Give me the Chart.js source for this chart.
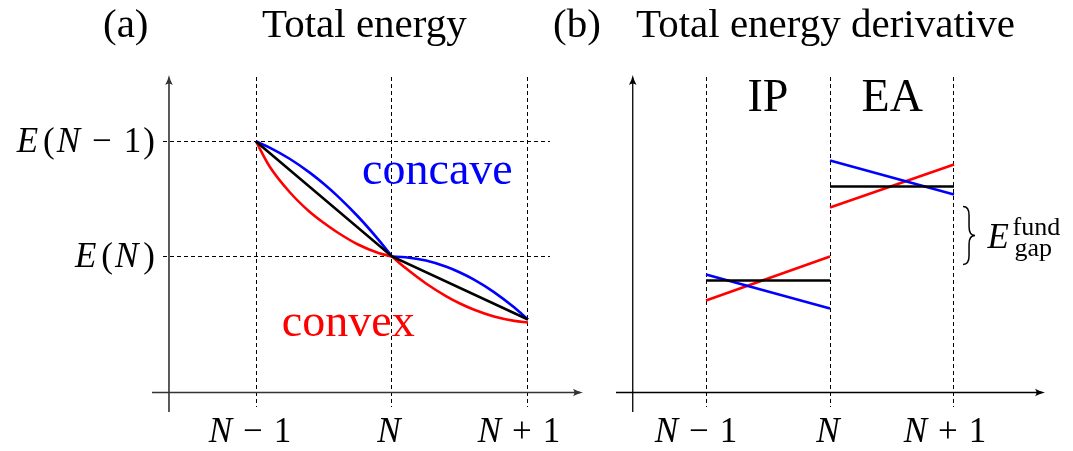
<!DOCTYPE html>
<html>
<head>
<meta charset="utf-8">
<title>Total energy and its derivative</title>
<script src="https://cdn.jsdelivr.net/npm/chart.js@4.4.0/dist/chart.umd.min.js"></script>
<style>
  html, body { margin: 0; padding: 0; background: #fff; }
  #wrap { position: relative; width: 1073px; height: 451px; overflow: hidden; }
  #wrap canvas { position: absolute; top: 0; }
  #panelA { left: 0; }
  #panelB { left: 540px; }
</style>
</head>
<body>
<div id="wrap">
  <canvas id="panelA" width="600" height="451"></canvas>
  <canvas id="panelB" width="533" height="451"></canvas>
</div>
<script>
// ---- (a) total energy: N-1 -> -1, N -> 0, N+1 -> 1 ----
const xTicksA = [-1, 0, 1];
const yTicksA = [13.6, 25.1];              // E(N), E(N-1)
const exactX = [-1, 0, 1];
const exactE = [25.1, 13.6, 7.3];          // straight-line segments

const leftX = [-1, -0.9, -0.75, -0.6, -0.5, -0.4, -0.25, -0.1, 0];
const concaveLeft = [25.1, 24.49, 23.35, 21.94, 20.85, 19.64, 17.6, 15.29, 13.6];
const convexLeft  = [25.1, 22.6, 20.0, 18.0, 16.95, 16.0, 14.8, 13.96, 13.6];

const rightX = [0, 0.1, 0.25, 0.4, 0.5, 0.6, 0.75, 0.9, 1];
const concaveRight = [13.6, 13.53, 13.19, 12.57, 12.0, 11.31, 10.04, 8.49, 7.3];
const convexRight  = [13.6, 12.44, 10.9, 9.62, 8.9, 8.3, 7.6, 7.16, 7.0];

// ---- (b) derivative: constant (exact) vs sloped (concave / convex) ----
const xTicksB = [-1, 0, 1];
const ipX = [-1, 0];
const ipExact   = [11.2, 11.2];
const ipConcave = [11.8, 8.4];
const ipConvex  = [9.2, 13.6];
const eaX = [0, 1];
const eaExact   = [20.6, 20.6];
const eaConcave = [23.2, 19.8];
const eaConvex  = [18.5, 22.8];

const BLUE = '#0000ff', RED = '#ff0000', BLACK = '#000000';
const SERIF = '"Liberation Serif", "DejaVu Serif", serif';
const fnt = (size, it) => (it ? 'italic ' : '') + size + 'px ' + SERIF;
const pts = (xs, ys) => xs.map((x, i) => ({ x: x, y: ys[i] }));

// text made of upright / italic pieces, like inline math
function mathText(ctx, parts, x, y, size, align) {
  let w = 0;
  parts.forEach(p => {
    ctx.font = fnt(p.size || size, p.it);
    p.w = ctx.measureText(p.t).width;
    w += p.w + (p.gap || 0);
  });
  let cx = align === 'right' ? x - w : align === 'center' ? x - w / 2 : x;
  ctx.textAlign = 'left';
  ctx.textBaseline = 'alphabetic';
  parts.forEach(p => {
    ctx.font = fnt(p.size || size, p.it);
    ctx.fillText(p.t, cx, y);
    cx += p.w + (p.gap || 0);
  });
}

const nMinus1 = [{ t: 'N', it: true, gap: 11 }, { t: '\u2212', gap: 11 }, { t: '1' }];
const nOnly   = [{ t: 'N', it: true }];
const nPlus1  = [{ t: 'N', it: true, gap: 11 }, { t: '+', gap: 11 }, { t: '1' }];

function arrowLine(ctx, x1, y1, x2, y2, color, width) {
  const a = Math.atan2(y2 - y1, x2 - x1);
  ctx.save();
  ctx.strokeStyle = color;
  ctx.fillStyle = color;
  ctx.lineWidth = width;
  ctx.beginPath();
  ctx.moveTo(x1, y1);
  ctx.lineTo(x2 - 3 * Math.cos(a), y2 - 3 * Math.sin(a));
  ctx.stroke();
  ctx.translate(x2, y2);
  ctx.rotate(a);
  ctx.beginPath();
  ctx.moveTo(0, 0);
  ctx.quadraticCurveTo(-5, -1, -10, -3.8);
  ctx.quadraticCurveTo(-7, 0, -10, 3.8);
  ctx.quadraticCurveTo(-5, 1, 0, 0);
  ctx.fill();
  ctx.restore();
}

function brace(ctx, x, y1, y2, w) {
  const ym = (y1 + y2) / 2, h = (y2 - y1) / 2, m = x + w / 2;
  ctx.save();
  ctx.strokeStyle = BLACK;
  ctx.lineWidth = 1.5;
  ctx.beginPath();
  ctx.moveTo(x, y1);
  ctx.quadraticCurveTo(m, y1, m, y1 + h * 0.3);
  ctx.lineTo(m, ym - h * 0.3);
  ctx.quadraticCurveTo(m, ym, x + w, ym);
  ctx.quadraticCurveTo(m, ym, m, ym + h * 0.3);
  ctx.lineTo(m, y2 - h * 0.3);
  ctx.quadraticCurveTo(m, y2, x, y2);
  ctx.stroke();
  ctx.restore();
}

function lineSet(data, color, smooth) {
  return {
    data: data,
    borderColor: color,
    borderWidth: 2.6,
    pointRadius: 0,
    fill: false,
    tension: 0,
    cubicInterpolationMode: smooth ? 'monotone' : 'default',
    borderCapStyle: 'butt'
  };
}

function scaleOpts(min, max, ticks, showGrid) {
  return {
    type: 'linear',
    min: min,
    max: max,
    afterBuildTicks: s => { s.ticks = ticks.map(v => ({ value: v })); },
    ticks: { display: false },
    grid: { display: showGrid, drawTicks: false, color: BLACK, lineWidth: 1 },
    border: { display: false, dash: [4, 3] }
  };
}

// ---- panel (a) decorations ----
const decorA = {
  id: 'decorA',
  beforeDatasetsDraw(chart) {
    const ctx = chart.ctx, xs = chart.scales.x, ys = chart.scales.y;
    const y0 = ys.getPixelForValue(0), xAxis = xs.getPixelForValue(-1.64);
    arrowLine(ctx, xs.getPixelForValue(-1.765), y0, xs.getPixelForValue(1.404), y0, '#333', 1.6);
    arrowLine(ctx, xAxis, ys.getPixelForValue(-1.95), xAxis, ys.getPixelForValue(31.75), '#333', 1.6);
  },
  afterDraw(chart) {
    const ctx = chart.ctx, xs = chart.scales.x, ys = chart.scales.y;
    ctx.save();
    ctx.fillStyle = BLACK;
    ctx.font = fnt(41);
    ctx.fillText('(a)', 103, 37);
    ctx.fillText('Total energy', 262, 37);

    const base = ys.getPixelForValue(0) + 49;
    mathText(ctx, nMinus1, xs.getPixelForValue(-1) - 6, base, 35, 'center');
    mathText(ctx, nOnly, xs.getPixelForValue(0) - 3, base, 35, 'center');
    mathText(ctx, nPlus1, xs.getPixelForValue(1) - 9, base, 35, 'center');

    const right = 155;
    mathText(ctx, [{ t: 'E', it: true, gap: 5 }, { t: '(', gap: 2 }, { t: 'N', it: true, gap: 12 },
      { t: '\u2212', gap: 12 }, { t: '1', gap: 2 }, { t: ')' }],
      right, ys.getPixelForValue(25.1) + 10, 35, 'right');
    mathText(ctx, [{ t: 'E', it: true, gap: 5 }, { t: '(', gap: 2 }, { t: 'N', it: true, gap: 5 }, { t: ')' }],
      right, ys.getPixelForValue(13.6) + 10, 35, 'right');

    ctx.font = fnt(46);
    ctx.fillStyle = BLUE;
    ctx.fillText('concave', xs.getPixelForValue(-0.22), ys.getPixelForValue(20.85));
    ctx.fillStyle = RED;
    ctx.fillText('convex', xs.getPixelForValue(-0.81), ys.getPixelForValue(5.65));
    ctx.restore();
  }
};

// ---- panel (b) decorations ----
const decorB = {
  id: 'decorB',
  beforeDatasetsDraw(chart) {
    const ctx = chart.ctx, xs = chart.scales.x, ys = chart.scales.y;
    const y0 = ys.getPixelForValue(0), xAxis = xs.getPixelForValue(-1.591);
    arrowLine(ctx, xs.getPixelForValue(-1.726), y0, xs.getPixelForValue(1.734), y0, BLACK, 1.3);
    arrowLine(ctx, xAxis, ys.getPixelForValue(-1.95), xAxis, ys.getPixelForValue(31.75), BLACK, 1.3);
  },
  afterDraw(chart) {
    const ctx = chart.ctx, xs = chart.scales.x, ys = chart.scales.y;
    ctx.save();
    ctx.fillStyle = BLACK;
    ctx.font = fnt(41);
    ctx.fillText('(b)', 13, 37);
    ctx.fillText('Total energy derivative', 96, 37);

    const base = ys.getPixelForValue(0) + 49;
    mathText(ctx, nMinus1, xs.getPixelForValue(-1) - 10, base, 35, 'center');
    mathText(ctx, nOnly, xs.getPixelForValue(0) - 2, base, 35, 'center');
    mathText(ctx, nPlus1, xs.getPixelForValue(1) - 9, base, 35, 'center');

    ctx.font = fnt(46);
    ctx.fillText('IP', xs.getPixelForValue(-0.665), ys.getPixelForValue(28.2));
    ctx.fillText('EA', xs.getPixelForValue(0.255), ys.getPixelForValue(28.2));

    brace(ctx, xs.getPixelForValue(1.073), ys.getPixelForValue(18.6), ys.getPixelForValue(12.8), 12);
    const ex = xs.getPixelForValue(1.27), ey = ys.getPixelForValue(14.5);
    ctx.font = fnt(35, true);
    ctx.fillText('E', ex, ey);
    ctx.font = fnt(26);
    ctx.fillText('fund', ex + 25, ey - 13);
    ctx.fillText('gap', ex + 27, ey + 8);
    ctx.restore();
  }
};

const common = {
  responsive: false,
  animation: false,
  events: [],
  plugins: { legend: { display: false }, tooltip: { enabled: false } }
};

new Chart(document.getElementById('panelA'), {
  type: 'line',
  data: {
    datasets: [
      lineSet(pts(exactX, exactE), BLACK, false),
      lineSet(pts(leftX, concaveLeft), BLUE, true),
      lineSet(pts(rightX, concaveRight), BLUE, true),
      lineSet(pts(leftX, convexLeft), RED, true),
      lineSet(pts(rightX, convexRight), RED, true)
    ]
  },
  options: Object.assign({}, common, {
    layout: { padding: { left: 163, right: 50, top: 77, bottom: 44 } },
    scales: {
      x: scaleOpts(-1.684, 1.162, xTicksA, true),
      y: scaleOpts(-1.45, 31.55, yTicksA, true)
    }
  }),
  plugins: [decorA]
});

new Chart(document.getElementById('panelB'), {
  type: 'line',
  data: {
    datasets: [
      lineSet(pts(ipX, ipExact), BLACK, false),
      lineSet(pts(eaX, eaExact), BLACK, false),
      lineSet(pts(ipX, ipConcave), BLUE, false),
      lineSet(pts(eaX, eaConcave), BLUE, false),
      lineSet(pts(ipX, ipConvex), RED, false),
      lineSet(pts(eaX, eaConvex), RED, false)
    ]
  },
  options: Object.assign({}, common, {
    layout: { padding: { left: 76, right: 28, top: 77, bottom: 44 } },
    scales: {
      x: scaleOpts(-1.726, 1.734, xTicksB, true),
      y: scaleOpts(-1.45, 31.55, [], false)
    }
  }),
  plugins: [decorB]
});
</script>
</body>
</html>
